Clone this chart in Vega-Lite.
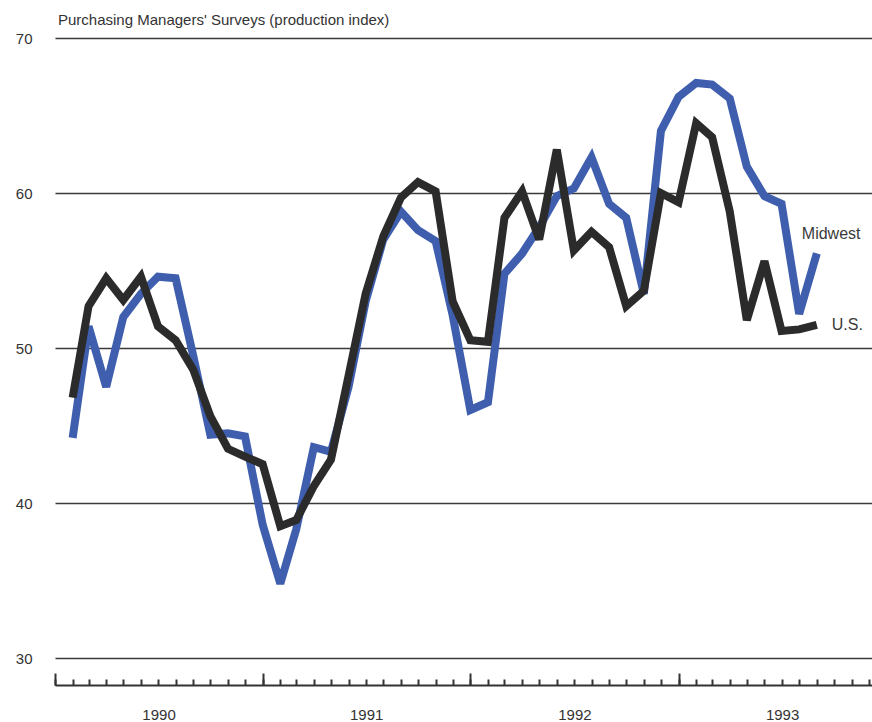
{
  "$schema": "https://vega.github.io/schema/vega-lite/v6.json",
  "width": 817,
  "height": 647,
  "autosize": "none",
  "padding": {"left": 55, "top": 38, "right": 0, "bottom": 37},
  "config": {
    "view": {"stroke": null},
    "font": "Liberation Sans",
    "axis": {"labelFont": "Liberation Sans", "labelColor": "#333333"}
  },
  "title": {
    "text": "Purchasing Managers' Surveys (production index)",
    "anchor": "start",
    "frame": "group",
    "fontSize": 15,
    "fontWeight": "normal",
    "color": "#333333",
    "offset": 3,
    "dx": 3
  },
  "data": {
    "values": [
      {"date": "1990-02-01", "series": "Midwest", "value": 44.2},
      {"date": "1990-03-01", "series": "Midwest", "value": 51.4},
      {"date": "1990-04-01", "series": "Midwest", "value": 47.5},
      {"date": "1990-05-01", "series": "Midwest", "value": 52.0},
      {"date": "1990-06-01", "series": "Midwest", "value": 53.5},
      {"date": "1990-07-01", "series": "Midwest", "value": 54.6},
      {"date": "1990-08-01", "series": "Midwest", "value": 54.5},
      {"date": "1990-09-01", "series": "Midwest", "value": 49.5},
      {"date": "1990-10-01", "series": "Midwest", "value": 44.4},
      {"date": "1990-11-01", "series": "Midwest", "value": 44.5},
      {"date": "1990-12-01", "series": "Midwest", "value": 44.3},
      {"date": "1991-01-01", "series": "Midwest", "value": 38.6},
      {"date": "1991-02-01", "series": "Midwest", "value": 34.8},
      {"date": "1991-03-01", "series": "Midwest", "value": 38.3},
      {"date": "1991-04-01", "series": "Midwest", "value": 43.6},
      {"date": "1991-05-01", "series": "Midwest", "value": 43.3},
      {"date": "1991-06-01", "series": "Midwest", "value": 47.5},
      {"date": "1991-07-01", "series": "Midwest", "value": 53.0},
      {"date": "1991-08-01", "series": "Midwest", "value": 57.0},
      {"date": "1991-09-01", "series": "Midwest", "value": 58.8},
      {"date": "1991-10-01", "series": "Midwest", "value": 57.6},
      {"date": "1991-11-01", "series": "Midwest", "value": 56.9},
      {"date": "1991-12-01", "series": "Midwest", "value": 52.1},
      {"date": "1992-01-01", "series": "Midwest", "value": 46.0},
      {"date": "1992-02-01", "series": "Midwest", "value": 46.5},
      {"date": "1992-03-01", "series": "Midwest", "value": 54.8},
      {"date": "1992-04-01", "series": "Midwest", "value": 56.1},
      {"date": "1992-05-01", "series": "Midwest", "value": 57.8},
      {"date": "1992-06-01", "series": "Midwest", "value": 59.8},
      {"date": "1992-07-01", "series": "Midwest", "value": 60.3},
      {"date": "1992-08-01", "series": "Midwest", "value": 62.3},
      {"date": "1992-09-01", "series": "Midwest", "value": 59.3},
      {"date": "1992-10-01", "series": "Midwest", "value": 58.4},
      {"date": "1992-11-01", "series": "Midwest", "value": 53.5},
      {"date": "1992-12-01", "series": "Midwest", "value": 64.0},
      {"date": "1993-01-01", "series": "Midwest", "value": 66.2},
      {"date": "1993-02-01", "series": "Midwest", "value": 67.1},
      {"date": "1993-03-01", "series": "Midwest", "value": 67.0},
      {"date": "1993-04-01", "series": "Midwest", "value": 66.1},
      {"date": "1993-05-01", "series": "Midwest", "value": 61.7},
      {"date": "1993-06-01", "series": "Midwest", "value": 59.8},
      {"date": "1993-07-01", "series": "Midwest", "value": 59.3},
      {"date": "1993-08-01", "series": "Midwest", "value": 52.2},
      {"date": "1993-09-01", "series": "Midwest", "value": 56.1},
      {"date": "1990-02-01", "series": "U.S.", "value": 46.8},
      {"date": "1990-03-01", "series": "U.S.", "value": 52.7},
      {"date": "1990-04-01", "series": "U.S.", "value": 54.5},
      {"date": "1990-05-01", "series": "U.S.", "value": 53.1},
      {"date": "1990-06-01", "series": "U.S.", "value": 54.6},
      {"date": "1990-07-01", "series": "U.S.", "value": 51.4},
      {"date": "1990-08-01", "series": "U.S.", "value": 50.5},
      {"date": "1990-09-01", "series": "U.S.", "value": 48.6},
      {"date": "1990-10-01", "series": "U.S.", "value": 45.6},
      {"date": "1990-11-01", "series": "U.S.", "value": 43.5},
      {"date": "1990-12-01", "series": "U.S.", "value": 43.0},
      {"date": "1991-01-01", "series": "U.S.", "value": 42.5},
      {"date": "1991-02-01", "series": "U.S.", "value": 38.5},
      {"date": "1991-03-01", "series": "U.S.", "value": 38.9},
      {"date": "1991-04-01", "series": "U.S.", "value": 41.1},
      {"date": "1991-05-01", "series": "U.S.", "value": 42.8},
      {"date": "1991-06-01", "series": "U.S.", "value": 48.2},
      {"date": "1991-07-01", "series": "U.S.", "value": 53.5},
      {"date": "1991-08-01", "series": "U.S.", "value": 57.2},
      {"date": "1991-09-01", "series": "U.S.", "value": 59.7},
      {"date": "1991-10-01", "series": "U.S.", "value": 60.7},
      {"date": "1991-11-01", "series": "U.S.", "value": 60.1},
      {"date": "1991-12-01", "series": "U.S.", "value": 53.0},
      {"date": "1992-01-01", "series": "U.S.", "value": 50.5},
      {"date": "1992-02-01", "series": "U.S.", "value": 50.4},
      {"date": "1992-03-01", "series": "U.S.", "value": 58.4},
      {"date": "1992-04-01", "series": "U.S.", "value": 60.1},
      {"date": "1992-05-01", "series": "U.S.", "value": 57.0},
      {"date": "1992-06-01", "series": "U.S.", "value": 62.8},
      {"date": "1992-07-01", "series": "U.S.", "value": 56.3},
      {"date": "1992-08-01", "series": "U.S.", "value": 57.5},
      {"date": "1992-09-01", "series": "U.S.", "value": 56.5},
      {"date": "1992-10-01", "series": "U.S.", "value": 52.7},
      {"date": "1992-11-01", "series": "U.S.", "value": 53.7},
      {"date": "1992-12-01", "series": "U.S.", "value": 60.0},
      {"date": "1993-01-01", "series": "U.S.", "value": 59.4},
      {"date": "1993-02-01", "series": "U.S.", "value": 64.5},
      {"date": "1993-03-01", "series": "U.S.", "value": 63.6},
      {"date": "1993-04-01", "series": "U.S.", "value": 58.8},
      {"date": "1993-05-01", "series": "U.S.", "value": 51.8},
      {"date": "1993-06-01", "series": "U.S.", "value": 55.6},
      {"date": "1993-07-01", "series": "U.S.", "value": 51.1},
      {"date": "1993-08-01", "series": "U.S.", "value": 51.2},
      {"date": "1993-09-01", "series": "U.S.", "value": 51.5}
    ]
  },
  "layer": [
    {
      "mark": {"type": "line", "strokeWidth": 8, "strokeJoin": "miter", "strokeMiterLimit": 3},
      "encoding": {
        "x": {
          "field": "date",
          "type": "temporal",
          "scale": {
            "type": "utc",
            "domain": [
              {"year": 1990, "month": 1, "date": 1, "utc": true},
              {"year": 1993, "month": 12, "date": 7, "utc": true}
            ]
          },
          "axis": {
            "orient": "bottom",
            "values": [
              {"year": 1990, "month": 1, "date": 1, "utc": true},
              {"year": 1991, "month": 1, "date": 1, "utc": true},
              {"year": 1992, "month": 1, "date": 1, "utc": true},
              {"year": 1993, "month": 1, "date": 1, "utc": true}
            ],
            "labels": false,
            "grid": false,
            "domain": true,
            "domainColor": "#333333",
            "domainWidth": 2,
            "ticks": true,
            "tickSize": -12,
            "tickColor": "#333333",
            "tickWidth": 2,
            "title": null
          }
        },
        "y": {
          "field": "value",
          "type": "quantitative",
          "scale": {"domain": [28.26, 70], "nice": false, "zero": false},
          "axis": {
            "values": [30, 40, 50, 60, 70],
            "grid": true,
            "gridColor": "#3a3a3a",
            "gridWidth": 1.5,
            "domain": false,
            "ticks": false,
            "labelPadding": 23,
            "labelFontSize": 15,
            "title": null
          }
        },
        "color": {
          "field": "series",
          "type": "nominal",
          "scale": {"domain": ["Midwest", "U.S."], "range": ["#3f5fae", "#2b2b2b"]},
          "legend": null
        }
      }
    },
    {
      "transform": [{"filter": "datum.series === 'Midwest' && utcyear(datum.date) === 1993 && utcmonth(datum.date) === 8"}],
      "mark": {"type": "text", "align": "left", "baseline": "middle", "dx": -15, "dy": -19, "fontSize": 16, "color": "#3a3a3a"},
      "encoding": {
        "x": {
          "field": "date",
          "type": "temporal",
          "axis": {
            "orient": "bottom",
            "tickCount": {"interval": "month", "step": 1},
            "labels": false,
            "grid": false,
            "domain": false,
            "ticks": true,
            "tickSize": -6,
            "tickColor": "#333333",
            "tickWidth": 2,
            "title": null
          }
        },
        "y": {"field": "value", "type": "quantitative"},
        "text": {"field": "series"}
      }
    },
    {
      "transform": [{"filter": "datum.series === 'U.S.' && utcyear(datum.date) === 1993 && utcmonth(datum.date) === 8"}],
      "mark": {"type": "text", "align": "left", "baseline": "middle", "dx": 15, "dy": 0, "fontSize": 16, "color": "#3a3a3a"},
      "encoding": {
        "x": {
          "field": "date",
          "type": "temporal",
          "axis": {
            "orient": "bottom",
            "values": [
              {"year": 1990, "month": 7, "date": 2, "utc": true},
              {"year": 1991, "month": 7, "date": 2, "utc": true},
              {"year": 1992, "month": 7, "date": 2, "utc": true},
              {"year": 1993, "month": 7, "date": 2, "utc": true}
            ],
            "labelExpr": "utcFormat(datum.value, '%Y')",
            "labelFontSize": 15,
            "labelPadding": 22,
            "grid": false,
            "domain": false,
            "ticks": false,
            "title": null
          }
        },
        "y": {"field": "value", "type": "quantitative"},
        "text": {"field": "series"}
      }
    }
  ],
  "resolve": {"axis": {"x": "independent"}}
}
